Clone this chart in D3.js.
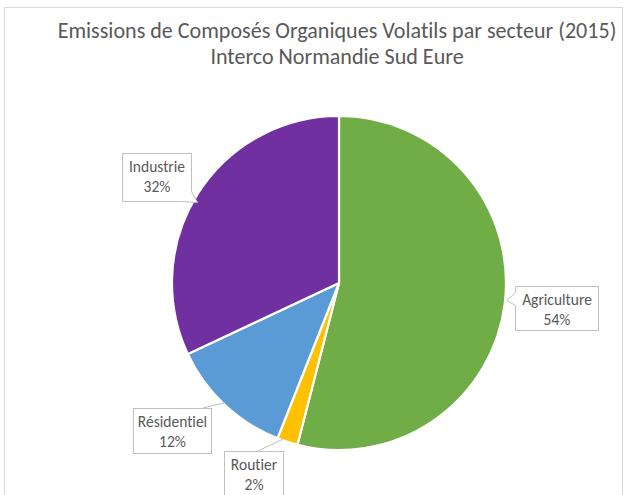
<!DOCTYPE html>
<html><head><meta charset="utf-8">
<script src="https://cdn.jsdelivr.net/npm/d3@7"></script>
<style>
html,body{margin:0;padding:0;background:#fff;}
svg{display:block;font-family:Carlito,Calibri,Lato,"Open Sans",sans-serif;font-variant-ligatures:none;}
</style></head>
<body><svg id="c" width="625" height="495"></svg>
<script>
const categories = ["Agriculture","Routier","Résidentiel","Industrie"];
const values = [54, 2, 12, 32];
const labels = ["54%","2%","12%","32%"];
const colors = ["#70AD47","#FFC000","#5B9BD5","#7030A0"];
const titleLines = ["Emissions de Composés Organiques Volatils par secteur (2015)","Interco Normandie Sud Eure"];

const svg = d3.select("#c");
svg.append("rect").attr("x",4.5).attr("y",7.5).attr("width",618).attr("height",500)
  .attr("fill","#fff").attr("stroke","#d9d9d9");

const t = svg.append("text").attr("fill","#595959").attr("text-anchor","middle").attr("font-size",19);
titleLines.forEach((s,i)=>t.append("tspan").attr("x",337).attr("y",38+i*26).text(s));
const tw = t.select("tspan").node().getComputedTextLength();
t.attr("font-size", 19*559/tw);

const cx=339, cy=283, R=167;
const pie = d3.pie().sort(null).value(d=>d)(values);
const arc = d3.arc().innerRadius(0).outerRadius(R);
const g = svg.append("g").attr("transform",`translate(${cx},${cy})`);
g.selectAll("path").data(pie).join("path").attr("d",arc)
  .attr("fill",(d,i)=>colors[i]).attr("stroke","#fff").attr("stroke-width",2.2).attr("stroke-linejoin","round");

const boxes = [
  {x:515,y:286,w:83,h:44, ptr:"left"},
  {x:224,y:451,w:59,h:46, ptr:"line", lx:258, ly:451},
  {x:133,y:408,w:78,h:45, ptr:"line", lx:203, ly:408},
  {x:122,y:153,w:69,h:48, ptr:"br"}
];
const edge = d3.arc().innerRadius(R).outerRadius(R);
pie.forEach((d,i)=>{
  const b = boxes[i];
  const [ex,ey] = edge.centroid(d).map((v,k)=>v+(k?cy:cx));
  if(b.ptr==="line"){
    svg.append("line").attr("x1",b.lx).attr("y1",b.ly).attr("x2",ex-(i===1?2:0)).attr("y2",ey-(i===1?4:2))
      .attr("stroke","#bfbfbf").attr("stroke-width",1);
    svg.append("rect").attr("x",b.x+.5).attr("y",b.y+.5).attr("width",b.w).attr("height",b.h)
      .attr("fill","#fff").attr("stroke","#bfbfbf");
  } else if(b.ptr==="left"){
    const x=b.x+.5,y=b.y+.5,w=b.w,h=b.h;
    const p=`M${x},${y}H${x+w}V${y+h}H${x}V${y+19}L${ex+2},${y+14}L${x},${y+6}Z`;
    svg.append("path").attr("d",p).attr("fill","#fff").attr("stroke","#bfbfbf");
  } else {
    const x=b.x+.5,y=b.y+.5,w=b.w,h=b.h;
    const p=`M${x},${y}H${x+w}V${y+h-10}L${x+w+6},${y+h+1}L${x+w-12},${y+h}H${x}Z`;
    svg.append("path").attr("d",p).attr("fill","#fff").attr("stroke","#bfbfbf");
  }
  const tx = svg.append("text").attr("fill","#595959").attr("text-anchor","middle").attr("font-size",15.5);
  tx.append("tspan").attr("x",b.x+b.w/2+0.5).attr("y",b.y+19).text(categories[i]);
  tx.append("tspan").attr("x",b.x+b.w/2+0.5).attr("y",b.y+39).text(labels[i]);
});
</script></body></html>
